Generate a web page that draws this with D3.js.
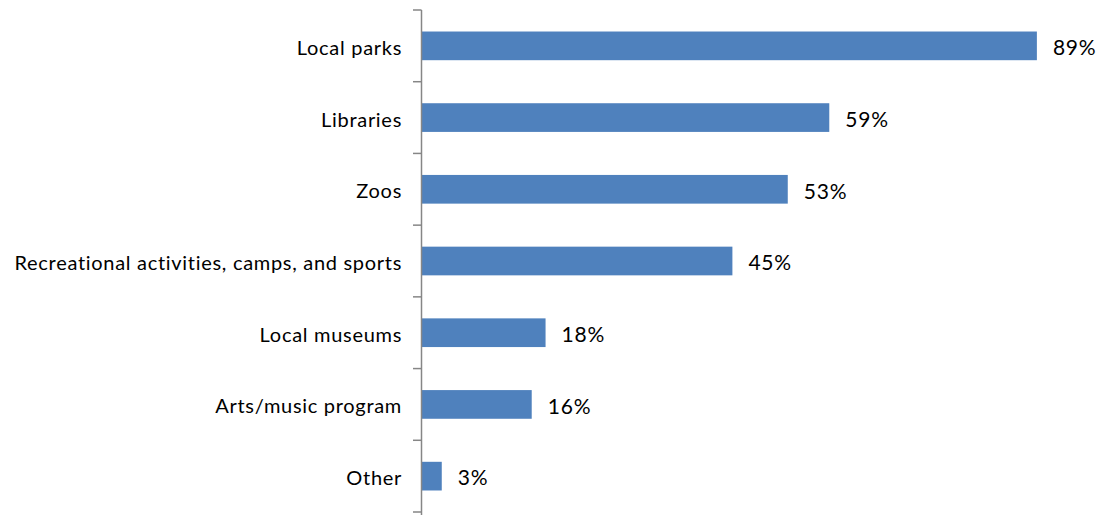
<!DOCTYPE html>
<html>
<head>
<meta charset="utf-8">
<script src="https://cdn.jsdelivr.net/npm/d3@7"></script>
<style>
  html, body { margin: 0; padding: 0; background: #ffffff; }
  svg text { font-family: "Century Gothic", "Lato", "Open Sans", sans-serif; fill: #000; }
</style>
</head>
<body>
<svg id="chart" width="1103" height="515"></svg>
<script>
// Survey responses: share of respondents using each community resource
const categories = [
  "Local parks",
  "Libraries",
  "Zoos",
  "Recreational activities, camps, and sports",
  "Local museums",
  "Arts/music program",
  "Other"
];
const values = [89, 59, 53, 45, 18, 16, 3];
const valueLabels = ["89%", "59%", "53%", "45%", "18%", "16%", "3%"];

const svg = d3.select("#chart");
const margin = { top: 10, left: 421 };
const plotW = 692;     // width of 0–100%
const plotH = 502;

const x = d3.scaleLinear().domain([0, 100]).range([margin.left, margin.left + plotW]);
const y = d3.scaleBand().domain(categories).range([margin.top, margin.top + plotH])
  .paddingInner(0.6).paddingOuter(0.3);

// category boundaries for the tick marks
const bandStep = plotH / categories.length;
const boundaries = d3.range(categories.length + 1).map(i => margin.top + i * bandStep);

const g = svg.append("g");

// bars
g.selectAll("rect.bar")
  .data(values)
  .join("rect")
  .attr("class", "bar")
  .attr("x", x(0))
  .attr("y", (d, i) => y(categories[i]))
  .attr("width", d => x(d) - x(0))
  .attr("height", y.bandwidth())
  .attr("fill", "#4F81BD");

// vertical axis line with outward ticks at category boundaries
g.append("line")
  .attr("x1", x(0) + 0.5).attr("x2", x(0) + 0.5)
  .attr("y1", margin.top).attr("y2", 515)
  .attr("stroke", "#868686").attr("stroke-width", 1.5);

g.selectAll("line.tick")
  .data(boundaries)
  .join("line")
  .attr("class", "tick")
  .attr("x1", x(0) - 8).attr("x2", x(0) + 0.5)
  .attr("y1", d => d).attr("y2", d => d)
  .attr("stroke", "#868686").attr("stroke-width", 1.5);

// category labels
g.selectAll("text.cat")
  .data(categories)
  .join("text")
  .attr("class", "cat")
  .attr("x", x(0) - 19)
  .attr("y", d => y(d) + y.bandwidth() / 2 + 2)
  .attr("dy", "0.35em")
  .attr("text-anchor", "end")
  .attr("font-size", 20)
  .attr("letter-spacing", "0.7px")
  .text(d => d);

// value labels
g.selectAll("text.val")
  .data(values)
  .join("text")
  .attr("class", "val")
  .attr("x", d => x(d) + 16)
  .attr("y", (d, i) => y(categories[i]) + y.bandwidth() / 2 + 2)
  .attr("dy", "0.35em")
  .attr("font-size", 21)
  .attr("letter-spacing", "0.8px")
  .text((d, i) => valueLabels[i]);
</script>
</body>
</html>
